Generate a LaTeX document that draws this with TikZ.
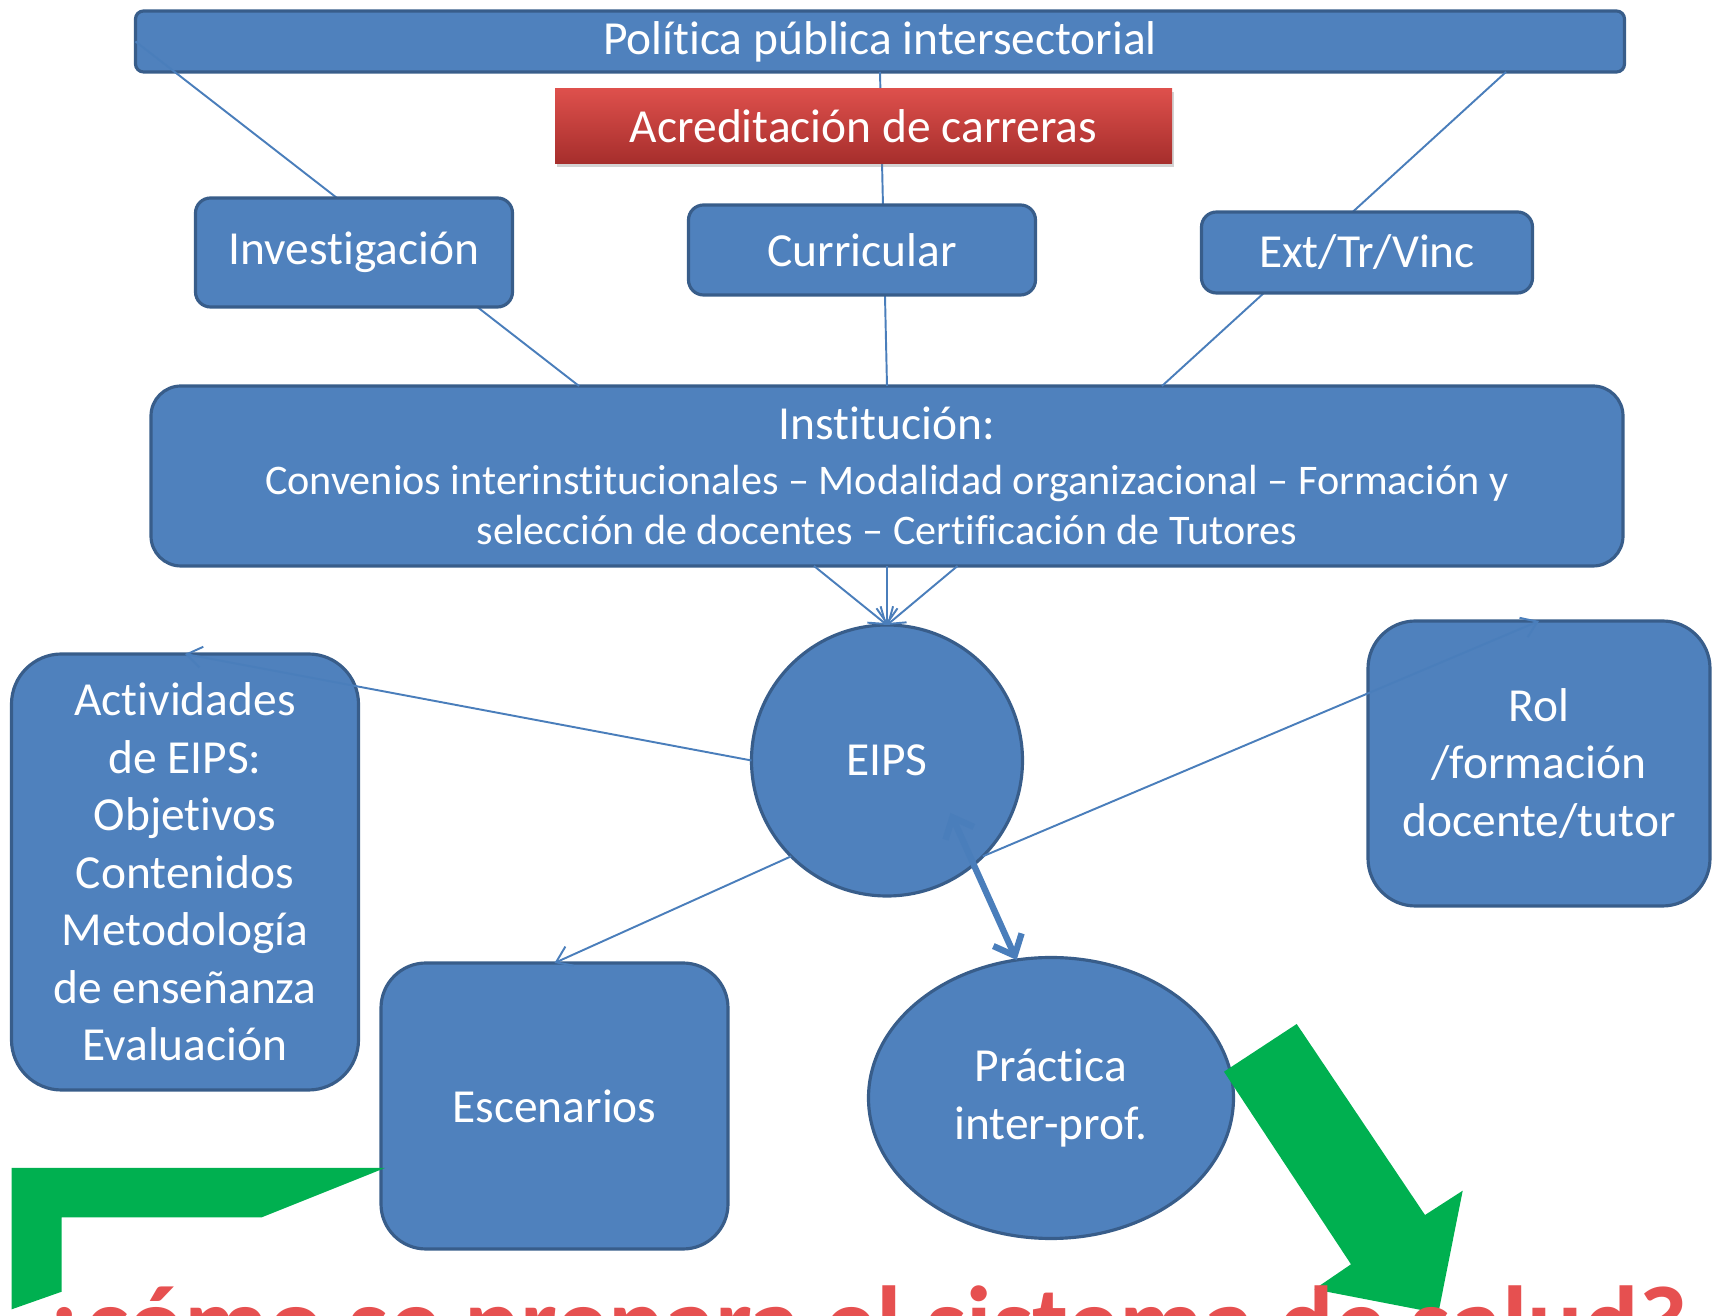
\documentclass[tikz,border=0pt]{standalone}
\usepackage{fontspec}
\setmainfont{Carlito}[Ligatures={TeX,NoCommon}]
\usepackage{xcolor}
\usepackage{tikz}
\usetikzlibrary{shapes.geometric, arrows.meta, positioning, calc, shadows}

\definecolor{boxblue}{RGB}{79,129,189}
\definecolor{boxedge}{RGB}{56,93,138}
\definecolor{linkblue}{RGB}{74,126,187}
\definecolor{accgreen}{RGB}{0,176,80}
\definecolor{redtop}{RGB}{222,80,76}
\definecolor{redbot}{RGB}{166,46,44}
\definecolor{asktext}{RGB}{230,80,80}

\begin{document}
\begin{tikzpicture}[
    base/.style={draw=boxedge, line width=1.8pt, fill=boxblue, text=white, inner sep=0pt, outer sep=0pt, align=center, font=\fontsize{27}{32.7}\selectfont},
    bar/.style={base, rounded corners=0.16cm, minimum width=29.78cm, minimum height=1.22cm},
    accred/.style={top color=redtop, bottom color=redbot, text=white, inner sep=0pt, outer sep=0pt, minimum width=12.34cm, minimum height=1.5cm, font=\fontsize{27}{32.7}\selectfont, drop shadow={shadow xshift=0.04cm, shadow yshift=-0.08cm, opacity=0.35}},
    area/.style={base, rounded corners=0.3cm},
    inst/.style={base, rounded corners=0.6cm, minimum width=29.44cm, minimum height=3.6cm, font=\fontsize{24}{28.5}\selectfont},
    block/.style={base, rounded corners=1cm},
    hub/.style={base, circle, minimum size=5.42cm},
    oval/.style={base, ellipse, minimum width=7.3cm, minimum height=5.62cm},
    link/.style={draw=linkblue, line width=1.1pt},
    linkarrow/.style={link, -{Straight Barb[length=0.3cm, width=0.42cm]}},
    twoway/.style={draw=linkblue, line width=3.6pt, {Straight Barb[length=0.35cm, width=0.62cm]}-{Straight Barb[length=0.35cm, width=0.62cm]}},
    question/.style={inner sep=0pt, text=asktext, font=\fontsize{59}{70}\selectfont\bfseries}
]
    \useasboundingbox (0,0) rectangle (34.28,26.32);

    % Institution level and public policy
    \node[inst] (inst) at (17.74,16.80) {{\fontsize{27}{33}\selectfont Institución:}\\[3pt]
        Convenios interinstitucionales -- Modalidad organizacional -- Formación y\\
        selección de docentes -- Certificación de Tutores};
    \node[bar, above=6.28cm of inst, xshift=-0.14cm] (politica) {Política pública intersectorial};

    % Lines from policy down to institution
    \draw[link] (politica.west) -- ($(inst.north)+(-6.16,0)$);
    \draw[link] (politica.south) -- (inst.north);
    \draw[link] ($(politica.south)+(12.52,0)$) -- ($(inst.north)+(5.5,0)$);

    % Middle boxes
    \node[accred, below=0.33cm of politica, xshift=-0.33cm] (acred) {Acreditación de carreras};
    \node[area, below=0.83cm of acred, xshift=-0.03cm, minimum width=6.94cm, minimum height=1.8cm] (curricular) {Curricular};
    \node[area, left=3.52cm of curricular, yshift=-0.05cm, minimum width=6.34cm, minimum height=2.18cm] (investigacion) {Investigación};
    \node[area, right=3.32cm of curricular, yshift=-0.05cm, minimum width=6.62cm, minimum height=1.62cm] (ext) {Ext/Tr/Vinc};

    % EIPS and its surroundings
    \node[hub, below=1.18cm of inst] (eips) {EIPS};
    \node[block, left=7.86cm of eips, yshift=-2.23cm, minimum width=6.94cm, minimum height=8.72cm] (actividades) {Actividades\\de EIPS:\\Objetivos\\Contenidos\\Metodología\\de enseñanza\\Evaluación};
    \node[block, right=6.91cm of eips, yshift=-0.06cm, rounded corners=0.95cm, minimum width=6.84cm, minimum height=5.7cm] (rol) {Rol\\/formación\\docente/tutor};
    \node[block, below=1.34cm of eips, xshift=-6.65cm, rounded corners=0.9cm, minimum width=6.94cm, minimum height=5.72cm] (escenarios) {Escenarios};
    \node[oval, below=1.23cm of eips, xshift=3.28cm] (practica) {Práctica\\inter-prof.};

    % Connections
    \draw[linkarrow] ($(inst.south)+(-1.46,0)$) -- (eips.north);
    \draw[linkarrow] (inst.south) -- (eips.north);
    \draw[linkarrow] ($(inst.south)+(1.41,0)$) -- (eips.north);
    \draw[linkarrow] (eips.west) -- (actividades.north);
    \draw[linkarrow] (eips.south west) -- (escenarios.north);
    \draw[linkarrow] (eips.south east) -- (rol.north);
    \draw[twoway] ($(eips.center)+(1.27,-1.05)$) -- (practica.104);

    % Green arrows
    \fill[accgreen] (0.234,2.96) -- (7.70,2.96) -- (5.234,1.973) -- (1.234,1.973) -- (1.234,0.486) -- (0.234,0.134) -- cycle;
    \fill[accgreen] (24.48,4.886) -- (25.934,5.84) -- (28.50,2.02) -- (29.254,2.506) -- (28.766,0.054) -- (26.286,0.534) -- (27.02,1.034) -- cycle;

    % Question, cut off at the bottom
    \begin{scope}
        \clip (0,0) rectangle (34.28,26.32);
        \node[question, anchor=base west] (pregunta) at (0.75,-0.85) {¿cómo se prepara el sistema de salud?};
    \end{scope}
\end{tikzpicture}
\end{document}
